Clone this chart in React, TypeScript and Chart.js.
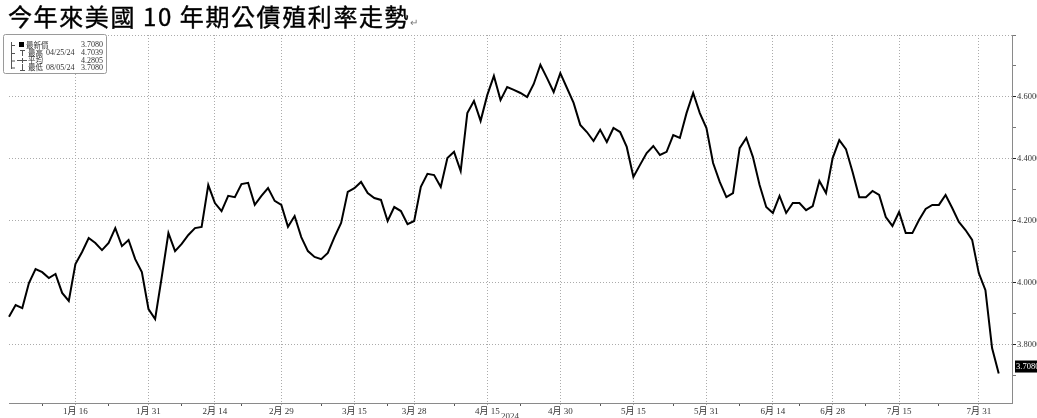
import { useEffect, useRef } from 'react';
import { Chart, registerables } from 'chart.js';

Chart.register(...registerables);

// Trading days (12/29/2023 .. 8/5/2024) plus two empty trailing axis slots
const dates: string[] = [
  '12/29',
  '1/2', '1/3', '1/4', '1/5', '1/8', '1/9', '1/10', '1/11', '1/12', '1/16', '1/17', '1/18', '1/19', '1/22', '1/23', '1/24', '1/25', '1/26', '1/29', '1/30', '1/31',
  '2/1', '2/2', '2/5', '2/6', '2/7', '2/8', '2/9', '2/12', '2/13', '2/14', '2/15', '2/16', '2/20', '2/21', '2/22', '2/23', '2/26', '2/27', '2/28', '2/29',
  '3/1', '3/4', '3/5', '3/6', '3/7', '3/8', '3/11', '3/12', '3/13', '3/14', '3/15', '3/18', '3/19', '3/20', '3/21', '3/22', '3/25', '3/26', '3/27', '3/28',
  '4/1', '4/2', '4/3', '4/4', '4/5', '4/8', '4/9', '4/10', '4/11', '4/12', '4/15', '4/16', '4/17', '4/18', '4/19', '4/22', '4/23', '4/24', '4/25', '4/26', '4/29', '4/30',
  '5/1', '5/2', '5/3', '5/6', '5/7', '5/8', '5/9', '5/10', '5/13', '5/14', '5/15', '5/16', '5/17', '5/20', '5/21', '5/22', '5/23', '5/24', '5/28', '5/29', '5/30', '5/31',
  '6/3', '6/4', '6/5', '6/6', '6/7', '6/10', '6/11', '6/12', '6/13', '6/14', '6/17', '6/18', '6/20', '6/21', '6/24', '6/25', '6/26', '6/27', '6/28',
  '7/1', '7/2', '7/3', '7/5', '7/8', '7/9', '7/10', '7/11', '7/12', '7/15', '7/16', '7/17', '7/18', '7/19', '7/22', '7/23', '7/24', '7/25', '7/26', '7/29', '7/30', '7/31',
  '8/1', '8/2', '8/5', '8/6', '8/7',
];

const yields: number[] = [
  3.891,
  3.929, 3.919, 4.0, 4.045, 4.035, 4.016, 4.029, 3.968, 3.942, 4.061, 4.1, 4.145, 4.129, 4.106, 4.129, 4.177, 4.119, 4.139, 4.077, 4.035, 3.916,
  3.884, 4.02, 4.161, 4.103, 4.126, 4.155, 4.177, 4.181, 4.316, 4.258, 4.232, 4.281, 4.277, 4.319, 4.323, 4.252, 4.281, 4.306, 4.265, 4.252,
  4.181, 4.216, 4.148, 4.103, 4.084, 4.077, 4.097, 4.148, 4.194, 4.294, 4.306, 4.326, 4.29, 4.274, 4.268, 4.2, 4.245, 4.232, 4.19, 4.2,
  4.31, 4.352, 4.348, 4.31, 4.403, 4.423, 4.361, 4.548, 4.587, 4.523, 4.606, 4.668, 4.59, 4.632, 4.623, 4.613, 4.6, 4.642, 4.704, 4.661, 4.616, 4.677,
  4.629, 4.581, 4.51, 4.487, 4.458, 4.494, 4.455, 4.5, 4.487, 4.439, 4.342, 4.381, 4.419, 4.442, 4.413, 4.423, 4.477, 4.468, 4.548, 4.613, 4.548, 4.5,
  4.387, 4.326, 4.277, 4.29, 4.435, 4.468, 4.406, 4.316, 4.245, 4.226, 4.281, 4.226, 4.258, 4.258, 4.235, 4.248, 4.329, 4.29, 4.403,
  4.461, 4.432, 4.358, 4.277, 4.277, 4.297, 4.284, 4.213, 4.184, 4.229, 4.161, 4.161, 4.203, 4.239, 4.252, 4.252, 4.284, 4.242, 4.197, 4.171, 4.139, 4.032,
  3.977, 3.79, 3.708,
];

const majorTickDates = ['1/16', '1/31', '2/14', '2/29', '3/15', '3/28', '4/15', '4/30', '5/15', '5/31', '6/14', '6/28', '7/15', '7/31'];
const majorTickLabels = ['1月 16', '1月 31', '2月 14', '2月 29', '3月 15', '3月 28', '4月 15', '4月 30', '5月 15', '5月 31', '6月 14', '6月 28', '7月 15', '7月 31'];
const minorTickDates = ['1/8', '1/23', '2/7', '2/21', '3/8', '3/22', '4/8', '4/22', '5/8', '5/23', '6/7', '6/21', '7/8', '7/23'];

const yTickValues = [3.7, 3.8, 3.9, 4.0, 4.1, 4.2, 4.3, 4.4, 4.5, 4.6, 4.7, 4.8];
const yLabeledValues = [3.8, 4.0, 4.2, 4.4, 4.6];
const yGridValues = [3.8, 4.0, 4.2, 4.4, 4.6, 4.8];

const legendNames = ['最新價', '最高', '平均', '最低'];
const legendDates = ['', '04/25/24', '', '08/05/24'];
const legendValues = ['3.7080', '4.7039', '4.2805', '3.7080'];
const lastValueLabel = '3.7080';
const yearLabel = '2024';
const titleText = '今年來美國 10 年期公債殖利率走勢';

const near = (a: number, list: number[]) => list.some((v) => Math.abs(v - a) < 1e-6);
const SERIF = '"Liberation Serif", "Noto Sans CJK TC", serif';
const CJK = '"Noto Sans CJK TC", sans-serif';

const overlayPlugin = {
  id: 'overlay',
  afterDraw(chart: any) {
    const ctx: CanvasRenderingContext2D = chart.ctx;
    const ys = chart.scales.y;
    const area = chart.chartArea;
    ctx.save();

    // year label under the x axis
    ctx.font = `9px ${SERIF}`;
    ctx.fillStyle = '#444';
    ctx.textAlign = 'center';
    ctx.textBaseline = 'top';
    ctx.fillText(yearLabel, 510, 412);

    // last value tag
    const py = ys.getPixelForValue(yields[yields.length - 1]) - 7;
    ctx.fillStyle = '#000';
    ctx.fillRect(area.right + 3, py - 6, 25, 12);
    ctx.fillStyle = '#fff';
    ctx.font = `8.5px ${SERIF}`;
    ctx.textAlign = 'left';
    ctx.textBaseline = 'middle';
    ctx.fillText(lastValueLabel, area.right + 4, py + 0.5);

    // legend box
    ctx.fillStyle = '#fff';
    ctx.strokeStyle = '#9a9a9a';
    ctx.lineWidth = 1;
    ctx.beginPath();
    (ctx as any).roundRect(3.5, 34.5, 103, 39, 2);
    ctx.fill();
    ctx.stroke();

    const rowY = [45, 53, 60.5, 67.5];
    ctx.strokeStyle = '#555';
    ctx.beginPath();
    ctx.moveTo(11.5, 42);
    ctx.lineTo(11.5, 69);
    rowY.forEach((ry) => {
      ctx.moveTo(11.5, ry + 0.5);
      ctx.lineTo(15, ry + 0.5);
    });
    // T (high)
    ctx.moveTo(20, 50.5); ctx.lineTo(25, 50.5);
    ctx.moveTo(22.5, 50.5); ctx.lineTo(22.5, 56);
    // -+- (average)
    ctx.moveTo(17, 60.5); ctx.lineTo(27, 60.5);
    ctx.moveTo(22.5, 58); ctx.lineTo(22.5, 63);
    // ⊥ (low)
    ctx.moveTo(22.5, 64); ctx.lineTo(22.5, 70);
    ctx.moveTo(20, 70.5); ctx.lineTo(25, 70.5);
    ctx.stroke();
    ctx.fillStyle = '#000';
    ctx.fillRect(19, 42, 5, 5);

    ctx.fillStyle = '#333';
    ctx.textBaseline = 'middle';
    legendNames.forEach((name, i) => {
      ctx.font = `7.5px ${CJK}`;
      ctx.textAlign = 'left';
      ctx.fillText(name, i === 0 ? 26 : 28, rowY[i]);
      ctx.font = `8px ${SERIF}`;
      if (legendDates[i]) ctx.fillText(legendDates[i], 46, rowY[i]);
      ctx.textAlign = 'right';
      ctx.fillText(legendValues[i], 103, rowY[i]);
    });
    ctx.restore();
  },
};

export default function App() {
  const ref = useRef<HTMLCanvasElement | null>(null);

  useEffect(() => {
    if (!ref.current) return;
    const chart = new Chart(ref.current, {
      type: 'line',
      data: {
        labels: dates,
        datasets: [
          {
            data: yields,
            borderColor: '#000',
            borderWidth: 2,
            pointRadius: 0,
            tension: 0,
            fill: false,
          },
        ],
      },
      options: {
        animation: false,
        responsive: false,
        maintainAspectRatio: false,
        layout: { padding: { left: 9, top: 35, right: 0, bottom: 0 } },
        plugins: { legend: { display: false }, tooltip: { enabled: false }, title: { display: false } },
        scales: {
          x: {
            type: 'category',
            offset: false,
            afterBuildTicks: (scale: any) => {
              scale.ticks = scale.ticks.filter((t: any) => {
                const d = dates[t.value];
                return majorTickDates.includes(d) || minorTickDates.includes(d);
              });
            },
            afterFit: (scale: any) => {
              scale.height = 15;
            },
            ticks: {
              autoSkip: false,
              maxRotation: 0,
              minRotation: 0,
              padding: 0,
              color: '#333',
              font: { size: 9, family: SERIF },
              callback: function (value: any) {
                const d = dates[value as number];
                const k = majorTickDates.indexOf(d);
                return k >= 0 ? majorTickLabels[k] : '';
              },
            },
            grid: {
              color: (c: any) => (majorTickDates.includes(dates[c.tick?.value]) ? '#ababab' : 'rgba(0,0,0,0)'),
              tickColor: (c: any) => (majorTickDates.includes(dates[c.tick?.value]) ? '#ababab' : '#555'),
              tickBorderDash: (c: any) => (majorTickDates.includes(dates[c.tick?.value]) ? [1, 2] : []),
              tickLength: 3,
              lineWidth: 1,
            },
            border: { display: true, color: '#8a8a8a', width: 1, dash: [1, 2] },
          },
          y: {
            type: 'linear',
            position: 'right',
            min: 3.6129,
            max: 4.8,
            afterBuildTicks: (scale: any) => {
              scale.ticks = yTickValues.map((v) => ({ value: v }));
            },
            afterFit: (scale: any) => {
              scale.width = 25;
            },
            ticks: {
              padding: 1,
              color: '#333',
              font: { size: 8.5, family: SERIF },
              callback: (value: any) => (near(Number(value), yLabeledValues) ? Number(value).toFixed(4) : ''),
            },
            grid: {
              color: (c: any) => (near(c.tick?.value, yGridValues) ? '#ababab' : 'rgba(0,0,0,0)'),
              tickColor: (c: any) => (near(c.tick?.value, yLabeledValues) ? '#222' : '#777'),
              tickBorderDash: [],
              tickLength: 4,
              lineWidth: 1,
            },
            border: { display: true, color: '#8a8a8a', width: 1, dash: [1, 2] },
          },
        },
      },
      plugins: [overlayPlugin],
    } as any);
    return () => chart.destroy();
  }, []);

  return (
    <div style={{ position: 'fixed', left: 0, top: 0, width: 1037, height: 418, background: '#fff' }}>
      <canvas ref={ref} width={1037} height={418} style={{ position: 'absolute', left: 0, top: 0 }} />
      <div
        style={{
          position: 'absolute',
          left: 8,
          top: 1,
          fontSize: 24,
          fontWeight: 400,
          letterSpacing: '1.6px',
          lineHeight: '30px',
          fontFamily: CJK,
          color: '#000',
          whiteSpace: 'nowrap',
          WebkitTextStroke: '0.4px #000',
        }}
      >
        {titleText}
        <span style={{ fontSize: 10, letterSpacing: 0, color: '#777', WebkitTextStroke: '0px' }}>↵</span>
      </div>
    </div>
  );
}
